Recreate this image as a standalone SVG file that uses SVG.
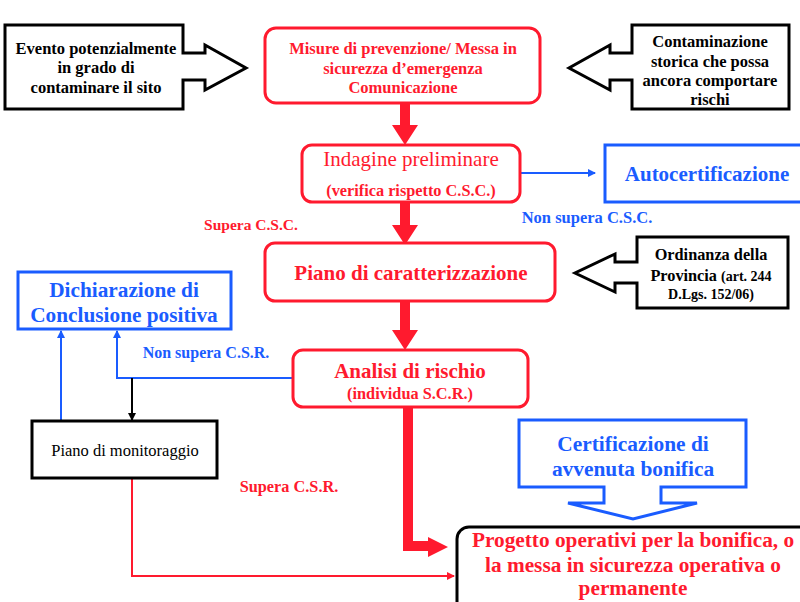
<svg xmlns="http://www.w3.org/2000/svg" width="800" height="602" viewBox="0 0 800 602">
<defs>
<style>
text{font-family:"Liberation Serif","Times New Roman",serif;text-anchor:middle}
.b{font-weight:bold}
.r{fill:#ff1a2e}
.u{fill:#1a5cff}
.k{fill:#000}
.rbox{fill:#fff;stroke:#ff1a2e;stroke-width:3}
.ubox{fill:#fff;stroke:#1a5cff;stroke-width:3}
.kbox{fill:#fff;stroke:#000;stroke-width:3}
.thick{fill:#ff1a2e;stroke:none}
.uline{fill:none;stroke:#1a5cff;stroke-width:2}
.rline{fill:none;stroke:#ff1a2e;stroke-width:2}
.kline{fill:none;stroke:#000;stroke-width:2}
</style>
<marker id="au" markerWidth="8" markerHeight="8" refX="7" refY="4" orient="auto" markerUnits="userSpaceOnUse"><path d="M0,0 L8,4 L0,8 Z" fill="#1a5cff"/></marker>
<marker id="ar" markerWidth="8" markerHeight="8" refX="7" refY="4" orient="auto" markerUnits="userSpaceOnUse"><path d="M0,0 L8,4 L0,8 Z" fill="#ff1a2e"/></marker>
<marker id="ak" markerWidth="8" markerHeight="8" refX="7" refY="4" orient="auto" markerUnits="userSpaceOnUse"><path d="M0,0 L8,4 L0,8 Z" fill="#000"/></marker>
</defs>
<rect width="800" height="602" fill="#fff"/>

<g id="connectors">
<path class="thick" d="M400,103 H410 V125 H418 L405,145 L392,125 H400 Z"/>
<path class="thick" d="M400,202 H410 V225 H418 L405,245 L392,225 H400 Z"/>
<path class="thick" d="M400,301 H410 V330 H418 L405,350 L392,330 H400 Z"/>
<path class="thick" d="M403,407 H413 V541 H428 V537 L448,547 L428,557 V551 H403 Z"/>
<path class="uline" d="M520,173 H595" marker-end="url(#au)"/>
<path class="uline" d="M293,378 H117 V331" marker-end="url(#au)"/>
<path class="uline" d="M61,421 V331" marker-end="url(#au)"/>
<path class="kline" d="M132,378 V420" marker-end="url(#ak)"/>
<path class="rline" d="M132,478 V576 H454" marker-end="url(#ar)"/>
</g>

<g id="evento">
<path class="kbox" d="M5,25 H183 V53 H205 V45 L246,68 L205,90 V80 H183 V109 H5 Z"/>
<text class="b k" font-size="16.5" x="96" y="54">Evento potenzialmente</text>
<text class="b k" font-size="16.5" x="96" y="73">in grado di</text>
<text class="b k" font-size="16.5" x="96" y="93">contaminare il sito</text>
</g>

<g id="misure">
<rect class="rbox" x="265" y="28" width="275" height="75" rx="11"/>
<text class="b r" font-size="16.5" x="403" y="54">Misure di prevenzione/ Messa in</text>
<text class="b r" font-size="16.5" x="403" y="74">sicurezza d’emergenza</text>
<text class="b r" font-size="16.5" x="403" y="93">Comunicazione</text>
</g>

<g id="contaminazione">
<path class="kbox" d="M789,25 H632 V53 H610 V45 L569,68 L610,90 V80 H632 V109 H789 Z"/>
<text class="b k" font-size="16.5" x="710" y="47">Contaminazione</text>
<text class="b k" font-size="16.5" x="710" y="67">storica che possa</text>
<text class="b k" font-size="16.5" x="710" y="86">ancora comportare</text>
<text class="b k" font-size="16.5" x="710" y="105">rischi</text>
</g>

<g id="indagine">
<rect class="rbox" x="302" y="145" width="218" height="57" rx="10"/>
<text class="r" font-size="21" x="411" y="166">Indagine preliminare</text>
<text class="b r" font-size="16.3" x="411" y="196">(verifica rispetto C.S.C.)</text>
</g>

<g id="autocertificazione">
<rect class="ubox" x="605" y="145" width="200" height="57"/>
<text class="b u" font-size="21" x="707" y="181">Autocertificazione</text>
</g>

<text class="b u" font-size="16.5" x="587" y="223">Non supera C.S.C.</text>
<text class="b r" font-size="15.5" x="251" y="230">Supera C.S.C.</text>

<g id="piano-caratterizzazione">
<rect class="rbox" x="265" y="243" width="290" height="58" rx="10"/>
<text class="b r" font-size="21" x="411" y="280">Piano di caratterizzazione</text>
</g>

<g id="ordinanza">
<path class="kbox" d="M788,237 H637 V262 H615 V254 L575,273 L615,292 V283 H637 V308 H788 Z"/>
<text class="b k" font-size="16.3" x="711" y="260">Ordinanza della</text>
<text class="b k" x="711" y="281"><tspan font-size="16.3">Provincia </tspan><tspan font-size="14">(art. 244</tspan></text>
<text class="b k" font-size="14" x="711" y="299">D.Lgs. 152/06)</text>
</g>

<g id="dichiarazione">
<rect class="ubox" x="18" y="272" width="213" height="57"/>
<text class="b u" font-size="21.3" x="124" y="297">Dichiarazione di</text>
<text class="b u" font-size="21.3" x="124" y="322">Conclusione positiva</text>
</g>

<text class="b u" font-size="16" x="206" y="358">Non supera C.S.R.</text>

<g id="analisi">
<rect class="rbox" x="293" y="350" width="235" height="57" rx="10"/>
<text class="b r" font-size="21" x="410" y="378">Analisi di rischio</text>
<text class="b r" font-size="16.3" x="410" y="399">(individua S.C.R.)</text>
</g>

<g id="monitoraggio">
<rect class="kbox" x="32" y="421" width="185" height="57"/>
<text class="k" font-size="16.5" x="125" y="456">Piano di monitoraggio</text>
</g>

<text class="b r" font-size="16.3" x="289" y="492">Supera C.S.R.</text>

<g id="certificazione">
<path class="ubox" d="M519,420 H746 V487 H661 V503 H697 L633,519 L568,503 H604 V487 H519 Z"/>
<text class="b u" font-size="21.4" x="633" y="451">Certificazione di</text>
<text class="b u" font-size="21.4" x="633" y="476">avvenuta bonifica</text>
</g>

<g id="progetto">
<rect x="457" y="527" width="360" height="90" rx="12" fill="#fff" stroke="#000" stroke-width="3"/>
<text class="b r" font-size="21.3" x="633" y="547">Progetto operativi per la bonifica, o</text>
<text class="b r" font-size="21.3" x="633" y="572">la messa in sicurezza operativa o</text>
<text class="b r" font-size="21.3" x="633" y="595">permanente</text>
</g>
</svg>
